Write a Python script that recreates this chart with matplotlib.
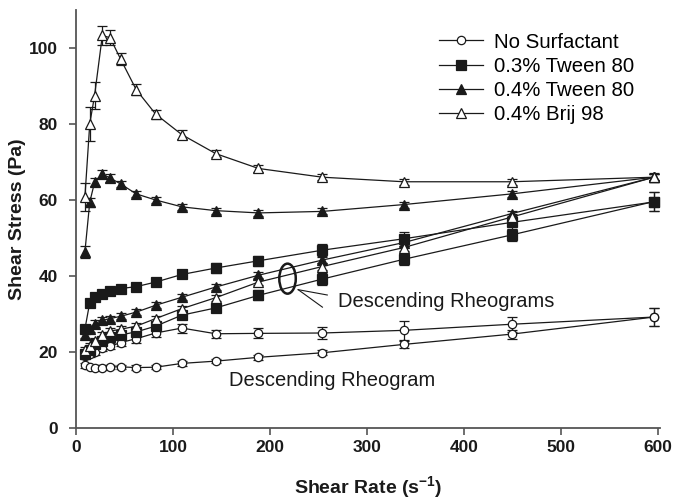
import matplotlib
matplotlib.use("Agg")
import numpy as np
from matplotlib import pyplot as plt
from matplotlib.patches import Ellipse

plt.rcParams['font.family'] = ['Liberation Sans', 'DejaVu Sans']
plt.rcParams['mathtext.fontset'] = 'custom'
plt.rcParams['mathtext.rm'] = 'Liberation Sans:bold'
plt.rcParams['mathtext.bf'] = 'Liberation Sans:bold'
plt.rcParams['mathtext.default'] = 'bf'

# shear rate (1/s)
shear = [9, 14, 19, 27, 35, 46, 62, 82, 109, 144, 188, 254, 338, 449, 596]

# ascending curves
no_surf_up = [19, 19.5, 20, 21, 21.5, 22.5, 23.5, 25, 26.3, 24.8, 24.9, 25, 25.7, 27.3, 29.2]
no_surf_up_err = [0.8, 0.8, 0.8, 0.8, 0.8, 0.8, 1, 1, 1.2, 1, 1.3, 1.6, 2.5, 2, 2.3]
tw03_up = [26, 33, 34.5, 35.3, 36, 36.7, 37.2, 38.4, 40.4, 42.1, 44, 46.8, 49.8, 54.1, 59.5]
tw03_up_err = [1, 1, 1, 0.8, 0.8, 0.8, 0.8, 1, 1, 1.2, 1.3, 1.5, 1.8, 1.6, 2.5]
tw04_up = [46.3, 59.4, 64.7, 66.8, 65.8, 64.2, 61.6, 60, 58.2, 57.2, 56.6, 57, 58.8, 61.6, 66]
tw04_up_err = [1.5, 1.2, 1, 1, 1, 0.8, 0.8, 0.8, 0.8, 0.8, 0.8, 0.8, 0.8, 0.8, 1]
brij_up = [60.7, 80, 87.5, 103.3, 102.7, 97, 89, 82.6, 77.2, 72.2, 68.3, 66, 64.8, 64.8, 66]
brij_up_err = [3.7, 4.5, 3.5, 2.5, 2, 1.6, 1.4, 1.2, 1.2, 1, 0.8, 0.8, 0.8, 0.8, 0.8]

# descending curves
no_surf_down = [16.5, 16, 15.9, 15.9, 16.1, 16.1, 15.9, 16, 17, 17.6, 18.6, 19.8, 22, 24.7, 29.2]
no_surf_down_err = [0.6, 0.6, 0.6, 0.6, 0.6, 0.6, 0.6, 0.6, 0.6, 0.6, 0.6, 0.7, 1, 1.2, 2.3]
tw03_down = [19.5, 20.5, 22, 23, 24, 24.5, 25.3, 26.8, 29.7, 31.6, 34.9, 39.2, 44.4, 50.8, 59.6]
tw03_down_err = [1, 1, 1, 0.8, 0.8, 0.8, 0.8, 1, 1, 1.2, 1.3, 1.5, 1.6, 1.6, 2.5]
tw04_down = [24.5, 26, 27.5, 28.3, 28.8, 29.4, 30.5, 32.3, 34.4, 37.1, 40.2, 44.2, 48.8, 56.4, 66]
tw04_down_err = [0.8] * 15
brij_down = [20.5, 21.5, 23, 24.5, 25.5, 26, 26.8, 28.8, 31.4, 34.3, 38.4, 42.5, 47.5, 55.5, 66]
brij_down_err = [0.8] * 15

labels = ['No Surfactant', '0.3% Tween 80', '0.4% Tween 80', '0.4% Brij 98']

ink = '#1a1a1a'
styles = [
    dict(marker='o', mfc='white', ms=6),
    dict(marker='s', mfc=ink, ms=7),
    dict(marker='^', mfc=ink, ms=7.5),
    dict(marker='^', mfc='white', ms=7),
]
up = [(no_surf_up, no_surf_up_err), (tw03_up, tw03_up_err),
      (tw04_up, tw04_up_err), (brij_up, brij_up_err)]
down = [(no_surf_down, no_surf_down_err), (tw03_down, tw03_down_err),
        (tw04_down, tw04_down_err), (brij_down, brij_down_err)]

fig = plt.figure(figsize=(6.74, 5.0), dpi=100)
ax = fig.add_axes([0.113, 0.144, 0.866, 0.836])

handles = []
for (y, e), (yd, ed), st, lab in zip(up, down, styles, labels):
    for yy, ee in ((yd, ed), (y, e)):
        ax.errorbar(shear, yy, yerr=ee, color=ink, lw=0.9, elinewidth=0.9,
                    capsize=3.5, capthick=0.9, mec=ink, mew=0.9, **st)
    h, = ax.plot([], [], color=ink, lw=0.9, mec=ink, mew=0.9, **st)
    handles.append(h)

ax.legend(handles, labels, loc='upper left', bbox_to_anchor=(0.591, 0.99),
          frameon=False, fontsize=14.7, handlelength=2.15, handletextpad=0.54,
          labelspacing=0.25)

# annotations
ax.add_patch(Ellipse((218, 39.3), 17, 7.9, fill=False, ec=ink, lw=1.8))
ax.plot([229, 259], [36.4, 35.0], color=ink, lw=0.8)
ax.plot([229, 254], [36.4, 31.8], color=ink, lw=0.8)
ax.text(270, 33.2, 'Descending Rheograms', fontsize=14.5, va='center', color=ink)
ax.text(158, 12.6, 'Descending Rheogram', fontsize=14.5, va='center', color=ink)

ax.set_xlim(0, 602)
ax.set_ylim(0, 110)
ax.set_xticks([0, 100, 200, 300, 400, 500, 600])
ax.set_yticks([0, 20, 40, 60, 80, 100])
for s in ['top', 'right']:
    ax.spines[s].set_visible(False)
for s in ['left', 'bottom']:
    ax.spines[s].set_color('#555555')
    ax.spines[s].set_linewidth(1.3)
ax.tick_params(direction='out', length=5, width=1.2, color='#555555',
               labelsize=12.5, labelcolor=ink)
ax.tick_params(axis='y', pad=8)
for t in ax.get_xticklabels() + ax.get_yticklabels():
    t.set_fontweight('bold')

ax.set_xlabel('Shear Rate (s$^{-1}$)', fontsize=14, fontweight='bold',
              color=ink, labelpad=14)
ax.set_ylabel('Shear Stress (Pa)', fontsize=14, fontweight='bold',
              color=ink, labelpad=2)

fig.savefig('out.png', dpi=100)
